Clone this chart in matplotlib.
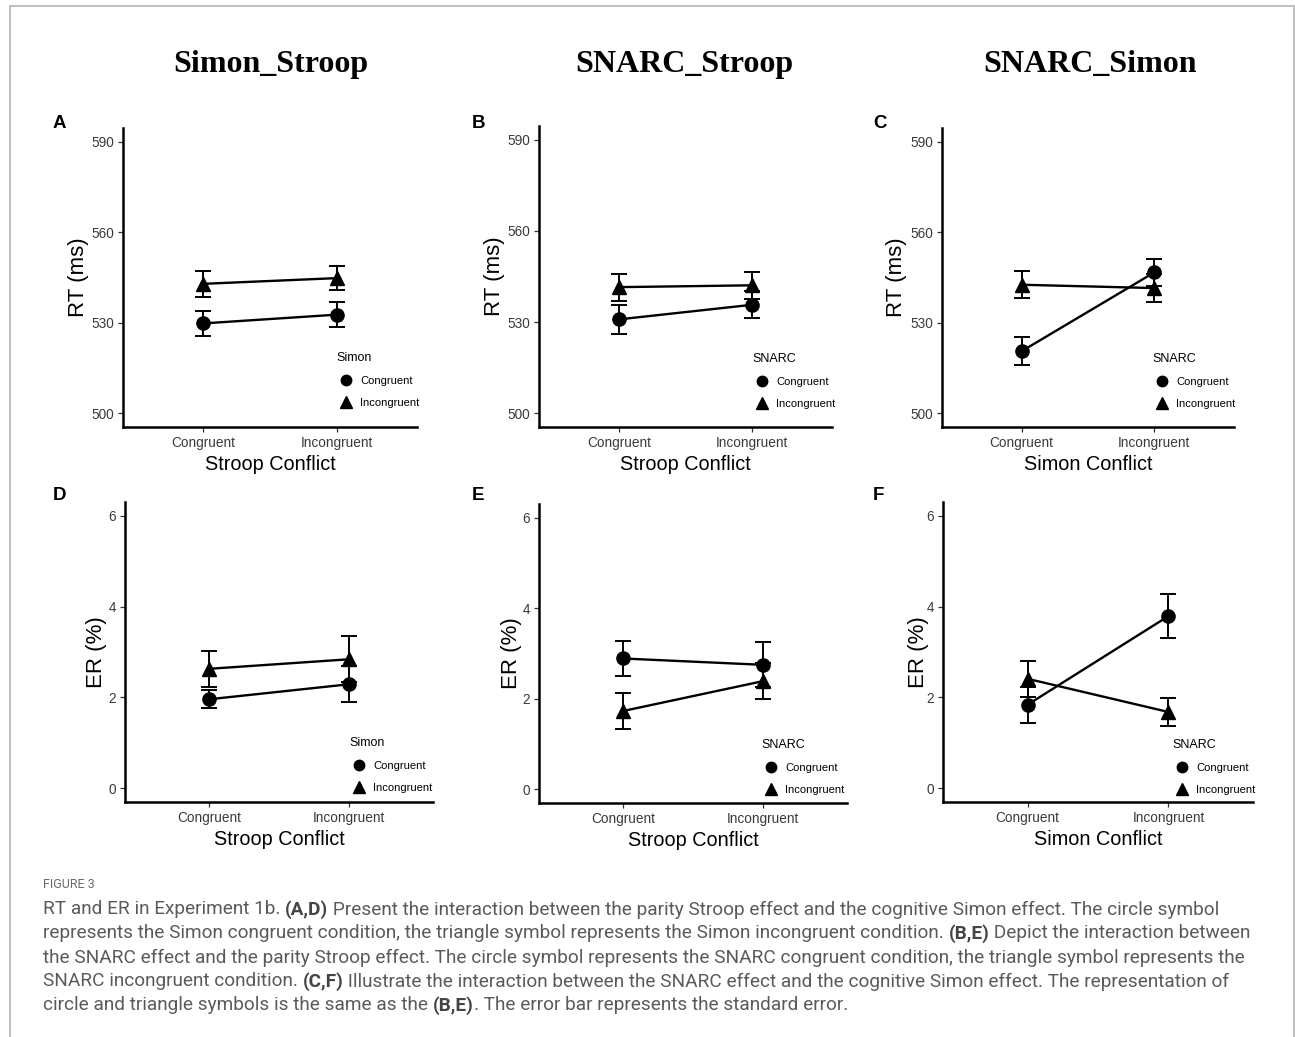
import numpy as np
import matplotlib.pyplot as plt
from matplotlib.lines import Line2D
from matplotlib.patches import Rectangle

# values (means and standard errors)
conditions = ['Congruent', 'Incongruent']

rt_simon_stroop_cong = [529.8, 532.7]
rt_simon_stroop_cong_se = [4.2, 4.2]
rt_simon_stroop_incong = [542.9, 544.8]
rt_simon_stroop_incong_se = [4.3, 4.1]

rt_snarc_stroop_cong = [530.9, 535.7]
rt_snarc_stroop_cong_se = [4.8, 4.4]
rt_snarc_stroop_incong = [541.5, 542.1]
rt_snarc_stroop_incong_se = [4.4, 4.4]

rt_snarc_simon_cong = [520.6, 546.7]
rt_snarc_simon_cong_se = [4.6, 4.5]
rt_snarc_simon_incong = [542.6, 541.5]
rt_snarc_simon_incong_se = [4.4, 4.5]

er_simon_stroop_cong = [1.96, 2.29]
er_simon_stroop_cong_se = [0.20, 0.40]
er_simon_stroop_incong = [2.63, 2.84]
er_simon_stroop_incong_se = [0.39, 0.51]

er_snarc_stroop_cong = [2.89, 2.75]
er_snarc_stroop_cong_se = [0.39, 0.50]
er_snarc_stroop_incong = [1.73, 2.39]
er_snarc_stroop_incong_se = [0.40, 0.40]

er_snarc_simon_cong = [1.84, 3.79]
er_snarc_simon_cong_se = [0.40, 0.49]
er_snarc_simon_incong = [2.41, 1.68]
er_snarc_simon_incong_se = [0.40, 0.30]

rt_ticks = [500, 530, 560, 590]
er_ticks = [0, 2, 4, 6]

col_titles = ['Simon_Stroop', 'SNARC_Stroop', 'SNARC_Simon']

caption_head = 'FIGURE 3'
caption_lines = [
    [('RT and ER in Experiment 1b. ', False), ('(A,D)', True),
     (' Present the interaction between the parity Stroop effect and the cognitive Simon effect. The circle symbol', False)],
    [('represents the Simon congruent condition, the triangle symbol represents the Simon incongruent condition. ', False),
     ('(B,E)', True), (' Depict the interaction between', False)],
    [('the SNARC effect and the parity Stroop effect. The circle symbol represents the SNARC congruent condition, the triangle symbol represents the', False)],
    [('SNARC incongruent condition. ', False), ('(C,F)', True),
     (' Illustrate the interaction between the SNARC effect and the cognitive Simon effect. The representation of', False)],
    [('circle and triangle symbols is the same as the ', False), ('(B,E)', True),
     ('. The error bar represents the standard error.', False)],
]

# panel layout: letter, axes box (left, top, right, bottom px), legend anchor px
panels = [
    dict(letter='A', box=(123, 128, 417, 427), leg=(336, 352), ylab_x=89, letter_xy=(53, 128),
         ylabel='RT (ms)', xlabel='Stroop Conflict', legtitle='Simon',
         cong=(rt_simon_stroop_cong, rt_simon_stroop_cong_se),
         incong=(rt_simon_stroop_incong, rt_simon_stroop_incong_se)),
    dict(letter='B', box=(539, 126, 832, 427), leg=(752, 353), ylab_x=505, letter_xy=(472, 128),
         ylabel='RT (ms)', xlabel='Stroop Conflict', legtitle='SNARC',
         cong=(rt_snarc_stroop_cong, rt_snarc_stroop_cong_se),
         incong=(rt_snarc_stroop_incong, rt_snarc_stroop_incong_se)),
    dict(letter='C', box=(942, 128, 1234, 427), leg=(1152, 353), ylab_x=907, letter_xy=(873, 128),
         ylabel='RT (ms)', xlabel='Simon Conflict', legtitle='SNARC',
         cong=(rt_snarc_simon_cong, rt_snarc_simon_cong_se),
         incong=(rt_snarc_simon_incong, rt_snarc_simon_incong_se)),
    dict(letter='D', box=(125, 502, 433, 802), leg=(349, 737), ylab_x=107, letter_xy=(53, 500),
         ylabel='ER (%)', xlabel='Stroop Conflict', legtitle='Simon',
         cong=(er_simon_stroop_cong, er_simon_stroop_cong_se),
         incong=(er_simon_stroop_incong, er_simon_stroop_incong_se)),
    dict(letter='E', box=(539, 504, 847, 803), leg=(761, 739), ylab_x=522, letter_xy=(472, 500),
         ylabel='ER (%)', xlabel='Stroop Conflict', legtitle='SNARC',
         cong=(er_snarc_stroop_cong, er_snarc_stroop_cong_se),
         incong=(er_snarc_stroop_incong, er_snarc_stroop_incong_se)),
    dict(letter='F', box=(943, 502, 1253, 802), leg=(1172, 739), ylab_x=929, letter_xy=(873, 500),
         ylabel='ER (%)', xlabel='Simon Conflict', legtitle='SNARC',
         cong=(er_snarc_simon_cong, er_snarc_simon_cong_se),
         incong=(er_snarc_simon_incong, er_snarc_simon_incong_se)),
]

W, H = 1295, 1037
plt.rcParams['font.family'] = ['Liberation Sans', 'DejaVu Sans']
fig = plt.figure(figsize=(W / 100, H / 100), dpi=100)

# thin grey frame round the figure
fig.patches.append(Rectangle((10 / W, -0.1), (1294 - 10) / W, 1.1 - 6 / H,
                             transform=fig.transFigure, fill=False,
                             edgecolor='#b4b4b4', lw=1.2))

x = np.arange(1, len(conditions) + 1)

for p in panels:
    l, t, r, b = p['box']
    ax = fig.add_axes([l / W, 1 - b / H, (r - l) / W, (b - t) / H])
    for key, mk, ms in [('cong', 'o', 9.5), ('incong', '^', 10)]:
        vals, se = p[key]
        ax.errorbar(x, vals, yerr=se, fmt='none', ecolor='black',
                    elinewidth=1.4, capsize=6, capthick=1.4)
        ax.plot(x, vals, color='black', lw=1.7, marker=mk, markersize=ms)
    ax.set_xlim(0.4, 2.6)
    if p['ylabel'].startswith('RT'):
        ax.set_ylim(495.5, 594.5)
        ax.set_yticks(rt_ticks)
    else:
        ax.set_ylim(-0.3, 6.3)
        ax.set_yticks(er_ticks)
    ax.set_xticks(x)
    ax.set_xticklabels(conditions)
    for s in ['top', 'right']:
        ax.spines[s].set_visible(False)
    for s in ['left', 'bottom']:
        ax.spines[s].set_linewidth(1.8)
    ax.tick_params(length=3.5, width=0.9, color='#333333', labelcolor='#3a3a3a',
                   labelsize=9.8, pad=3)
    ax.set_xlabel(p['xlabel'], fontsize=14.3)
    ax.set_ylabel(p['ylabel'], fontsize=16)
    ax.xaxis.set_label_coords(0.5, -28 / (b - t))
    ax.yaxis.set_label_coords((p['ylab_x'] - l) / (r - l), 0.5)

    handles = [Line2D([], [], ls='none', marker='o', color='black', markersize=7.5),
               Line2D([], [], ls='none', marker='^', color='black', markersize=8)]
    lx, ly = p['leg']
    ax.legend(handles, conditions, title=p['legtitle'], loc='upper left',
              bbox_to_anchor=(lx / W, 1 - ly / H), bbox_transform=fig.transFigure,
              frameon=False, borderpad=0, borderaxespad=0, fontsize=8,
              title_fontsize=9, handlelength=1.8, handletextpad=0.4,
              labelspacing=1.08, alignment='left')

    lxp, lyp = p['letter_xy']
    fig.text(lxp / W, 1 - lyp / H, p['letter'], fontsize=13.5, fontweight='bold',
             ha='left', va='baseline')

# column titles
for cx, title in zip([271, 684, 1090], col_titles):
    fig.text(cx / W, 1 - 72 / H, title, family='Liberation Serif', fontweight='bold',
             fontsize=23, ha='center', va='baseline')

# caption
cap_font = 'Roboto'
cap_color = '#5a5a5a'
fig.text(43 / W, 1 - 885 / H, caption_head, family=cap_font, fontsize=9,
         color='#6a6a6a', ha='left', va='center')

renderer = fig.canvas.get_renderer()


def text_width(s, size, bold):
    t = fig.text(0, 0, s, family=cap_font, fontsize=size,
                 fontweight='bold' if bold else 'normal')
    w = t.get_window_extent(renderer).width
    t.remove()
    return w


def seg_width(s, size, bold):
    return text_width('|' + s + '|', size, bold) - text_width('||', size, bold)


def line_width(segs, size):
    return sum(seg_width(s, size, bold) for s, bold in segs)


# fit the font size so the second line spans the same width as in the figure
size = 12.0
size = size * (1252 - 43) / line_width(caption_lines[1], size)

for i, segs in enumerate(caption_lines):
    xpos = 43
    ypos = 909.5 + i * 24
    for s, bold in segs:
        fig.text(xpos / W, 1 - ypos / H, s, family=cap_font, fontsize=size,
                 fontweight='bold' if bold else 'normal',
                 color='#444444' if bold else cap_color, ha='left', va='center')
        xpos += seg_width(s, size, bold)

fig.savefig('out.png', dpi=100)
